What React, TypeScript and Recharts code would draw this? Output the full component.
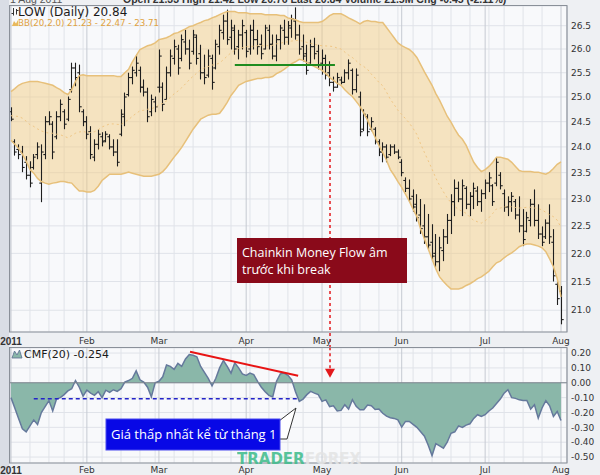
import React from 'react';
import {
  ComposedChart,
  Bar,
  Area,
  Line,
  XAxis,
  YAxis,
  CartesianGrid,
  ReferenceLine,
  ReferenceDot,
} from 'recharts';

// ---------- calendar (categories) ----------
const FIRST_DAY = '2011-01-03';
const LAST_DAY = '2011-08-01';
const HOLIDAYS = ['2011-01-17', '2011-02-21', '2011-04-22', '2011-05-30', '2011-07-04'];
const MONTH_LABELS = ['2011', 'Feb', 'Mar', 'Apr', 'May', 'Jun', 'Jul', 'Aug'];
const PRICE_TICKS = [21, 21.5, 22, 22.5, 23, 23.5, 24, 24.5, 25, 25.5, 26, 26.5];
const CMF_TICKS = [0.2, 0.1, 0, -0.1, -0.2, -0.3, -0.4, -0.5];

// ---------- series ----------
const OPEN = [
  24.70, 24.10, 23.95, 23.90, 23.70, 23.45, 23.60, 23.85, 23.30, 23.85,
  24.50, 24.45, 24.20, 24.60, 24.70, 24.55, 25.15, 25.60, 25.50, 24.70,
  24.50, 24.30, 23.80, 24.05, 24.20, 24.12, 24.20, 24.00, 23.90, 24.25,
  24.60, 25.05, 25.40, 25.50, 25.55, 25.20, 25.10, 24.70, 24.90, 25.20,
  25.20, 24.95, 25.50, 25.80, 26.00, 25.80, 26.15, 26.00, 25.95, 26.25,
  25.90, 25.50, 25.45, 25.80, 25.60, 26.05, 26.35, 26.60, 26.25, 26.40,
  26.05, 26.30, 26.35, 26.00, 26.40, 26.20, 26.10, 26.00, 26.40, 26.10,
  25.85, 26.20, 26.40, 26.25, 26.45, 26.60, 26.30, 26.05, 25.90, 25.70,
  26.05, 25.95, 25.70, 25.80, 25.50, 25.30, 25.20, 25.35, 25.30, 25.50,
  25.55, 25.15, 25.00, 24.35, 24.60, 24.35, 24.35, 24.10, 23.90, 24.00,
  23.85, 24.00, 23.90, 23.70, 23.35, 23.20, 23.05, 22.90, 22.70, 22.50,
  22.30, 22.20, 22.00, 21.85, 22.05, 22.30, 22.60, 22.95, 23.20, 23.00,
  23.20, 22.90, 23.05, 23.15, 22.95, 23.10, 23.30, 23.25, 23.30, 23.45,
  23.10, 22.85, 22.95, 22.95, 22.70, 22.50, 22.40, 22.60, 22.90, 22.60,
  22.35, 22.30, 22.55, 22.20, 21.45, 21.33,
];
const HIGH = [
  24.79, 24.15, 24.05, 24.02, 23.82, 23.72, 23.86, 24.09, 24.05, 24.61,
  24.71, 24.51, 24.71, 24.95, 24.75, 25.01, 25.71, 25.71, 25.67, 24.75,
  24.61, 24.41, 24.15, 24.35, 24.29, 24.31, 24.25, 24.15, 24.15, 24.75,
  25.09, 25.50, 25.63, 25.88, 25.63, 25.36, 25.19, 25.05, 25.01, 25.99,
  25.30, 25.63, 25.99, 26.20, 26.09, 26.31, 26.41, 26.20, 26.41, 26.31,
  26.09, 25.88, 25.99, 25.88, 26.20, 26.52, 26.74, 26.85, 26.63, 26.52,
  26.41, 26.63, 26.41, 26.52, 26.63, 26.41, 26.31, 26.52, 26.52, 26.31,
  26.31, 26.52, 26.63, 26.60, 26.74, 26.90, 26.52, 26.31, 26.09, 26.20,
  26.24, 26.09, 25.99, 25.88, 25.74, 25.42, 25.50, 25.42, 25.57, 25.78,
  25.59, 25.59, 25.11, 24.75, 24.65, 24.59, 24.39, 24.15, 24.09, 24.05,
  24.05, 24.05, 23.95, 23.76, 23.41, 23.37, 23.18, 23.09, 23.00, 22.90,
  22.72, 22.53, 22.35, 22.30, 22.44, 22.72, 23.09, 23.37, 23.33, 23.37,
  23.24, 23.13, 23.31, 23.24, 23.18, 23.37, 23.51, 23.28, 23.80, 23.51,
  23.18, 23.05, 23.13, 23.00, 23.05, 22.81, 22.76, 23.00, 23.18, 22.90,
  22.49, 22.62, 22.90, 22.44, 21.50, 21.42,
];
const LOW = [
  24.51, 23.83, 23.76, 23.51, 23.37, 23.22, 23.56, 23.76, 22.94, 23.76,
  24.43, 23.76, 24.15, 24.51, 24.35, 24.51, 25.09, 25.22, 24.69, 24.41,
  24.15, 23.76, 23.72, 23.95, 24.01, 24.09, 23.95, 23.82, 23.62, 24.21,
  24.41, 25.01, 25.26, 25.42, 25.09, 25.01, 24.49, 24.61, 24.69, 25.09,
  24.71, 24.95, 25.42, 25.67, 25.46, 25.74, 25.88, 25.57, 25.88, 25.67,
  25.36, 25.26, 25.40, 25.15, 25.57, 25.88, 26.20, 26.09, 25.99, 25.88,
  25.78, 25.99, 25.82, 25.88, 25.99, 25.88, 25.78, 25.99, 25.99, 25.78,
  25.74, 25.99, 26.09, 26.09, 26.24, 26.20, 25.88, 25.74, 25.46, 25.67,
  25.78, 25.57, 25.46, 25.36, 25.22, 25.11, 25.19, 25.26, 25.29, 25.36,
  25.05, 25.09, 24.21, 24.31, 24.21, 24.31, 24.05, 23.82, 23.70, 23.70,
  23.82, 23.86, 23.76, 23.43, 23.13, 22.94, 22.76, 22.58, 22.35, 22.17,
  22.08, 21.86, 21.76, 21.68, 21.86, 22.17, 22.35, 22.68, 22.94, 22.68,
  22.81, 22.68, 22.81, 22.87, 22.76, 23.00, 23.13, 22.87, 23.24, 23.18,
  22.76, 22.68, 22.76, 22.62, 22.38, 22.13, 22.38, 22.49, 22.49, 22.26,
  22.13, 22.26, 22.17, 21.50, 21.09, 20.76,
];
const CLOSE = [
  24.55, 23.90, 23.85, 23.60, 23.45, 23.30, 23.80, 24.00, 23.90, 24.50,
  24.60, 23.90, 24.60, 24.85, 24.45, 24.95, 25.60, 25.40, 24.80, 24.50,
  24.25, 23.85, 24.05, 24.25, 24.10, 24.25, 24.00, 23.90, 23.70, 24.65,
  25.00, 25.40, 25.55, 25.70, 25.20, 25.10, 24.60, 24.95, 24.80, 25.85,
  24.85, 25.50, 25.85, 26.05, 25.60, 26.20, 26.00, 25.70, 26.30, 25.80,
  25.50, 25.40, 25.85, 25.30, 26.10, 26.40, 26.60, 26.20, 26.45, 26.00,
  26.30, 26.50, 25.95, 26.40, 26.20, 26.05, 25.90, 26.45, 26.10, 25.85,
  26.20, 26.45, 26.25, 26.50, 26.65, 26.30, 26.00, 25.85, 25.55, 26.05,
  25.90, 25.65, 25.80, 25.45, 25.30, 25.20, 25.40, 25.30, 25.50, 25.70,
  25.15, 25.45, 24.30, 24.65, 24.30, 24.50, 24.10, 23.90, 24.00, 23.80,
  24.00, 23.90, 23.80, 23.50, 23.20, 23.00, 22.85, 22.65, 22.45, 22.30,
  22.15, 21.95, 21.85, 22.10, 22.30, 22.60, 22.95, 23.20, 23.00, 23.25,
  22.90, 23.05, 23.20, 22.95, 23.10, 23.30, 23.40, 22.95, 23.70, 23.25,
  22.85, 22.95, 23.05, 22.70, 22.50, 22.25, 22.65, 22.90, 22.60, 22.35,
  22.20, 22.55, 22.30, 21.60, 21.20, 20.84,
];
const BB_UPPER = [
  25.11, 25.17, 25.24, 25.28, 25.30, 25.32, 25.32, 25.32, 25.30, 25.28,
  25.26, 25.24, 25.19, 25.15, 25.09, 25.05, 25.15, 25.32, 25.44, 25.46,
  25.44, 25.44, 25.44, 25.44, 25.44, 25.44, 25.44, 25.44, 25.42, 25.42,
  25.50, 25.57, 25.73, 25.86, 25.99, 26.03, 26.07, 26.09, 26.13, 26.20,
  26.22, 26.24, 26.28, 26.33, 26.35, 26.39, 26.43, 26.48, 26.50, 26.54,
  26.57, 26.61, 26.63, 26.67, 26.70, 26.74, 26.78, 26.81, 26.81, 26.81,
  26.78, 26.78, 26.78, 26.76, 26.76, 26.76, 26.76, 26.74, 26.74, 26.74,
  26.74, 26.72, 26.72, 26.67, 26.65, 26.63, 26.59, 26.57, 26.57, 26.57,
  26.57, 26.57, 26.59, 26.65, 26.72, 26.76, 26.76, 26.76, 26.72, 26.67,
  26.63, 26.59, 26.54, 26.59, 26.61, 26.59, 26.59, 26.57, 26.57, 26.46,
  26.35, 26.24, 26.13, 26.07, 26.03, 25.99, 25.92, 25.82, 25.67, 25.52,
  25.38, 25.24, 25.07, 24.93, 24.77, 24.61, 24.49, 24.35, 24.23, 24.15,
  24.03, 23.86, 23.70, 23.60, 23.52, 23.56, 23.62, 23.70, 23.80, 23.80,
  23.78, 23.76, 23.70, 23.62, 23.54, 23.52, 23.52, 23.52, 23.51, 23.51,
  23.49, 23.47, 23.51, 23.58, 23.66, 23.71,
];
const BB_LOWER = [
  24.13, 24.05, 23.97, 23.86, 23.72, 23.56, 23.49, 23.39, 23.33, 23.30,
  23.28, 23.30, 23.31, 23.33, 23.33, 23.31, 23.30, 23.22, 23.15, 23.15,
  23.13, 23.13, 23.16, 23.24, 23.35, 23.41, 23.47, 23.47, 23.47, 23.47,
  23.49, 23.51, 23.49, 23.47, 23.45, 23.43, 23.43, 23.43, 23.45, 23.47,
  23.52, 23.60, 23.70, 23.80, 23.89, 23.99, 24.11, 24.23, 24.35, 24.45,
  24.55, 24.59, 24.63, 24.65, 24.65, 24.67, 24.77, 24.89, 25.03, 25.13,
  25.24, 25.28, 25.32, 25.34, 25.36, 25.38, 25.38, 25.40, 25.40, 25.42,
  25.48, 25.52, 25.57, 25.63, 25.69, 25.73, 25.78, 25.76, 25.71, 25.67,
  25.63, 25.59, 25.55, 25.48, 25.40, 25.34, 25.28, 25.24, 25.15, 25.07,
  25.01, 24.91, 24.81, 24.67, 24.53, 24.35, 24.19, 24.03, 23.89, 23.74,
  23.56, 23.45, 23.33, 23.22, 23.09, 22.96, 22.81, 22.67, 22.44, 22.26,
  22.08, 21.90, 21.72, 21.58, 21.50, 21.43, 21.37, 21.37, 21.37, 21.39,
  21.43, 21.46, 21.50, 21.55, 21.58, 21.63, 21.68, 21.76, 21.83, 21.86,
  21.92, 21.97, 22.01, 22.06, 22.12, 22.15, 22.17, 22.17, 22.15, 22.13,
  22.10, 22.03, 21.90, 21.76, 21.55, 21.23,
];
const CMF = [
  -0.10, -0.17, -0.24, -0.31, -0.33, -0.29, -0.25, -0.28, -0.20, -0.16,
  -0.12, -0.19, -0.11, -0.10, -0.08, -0.055, -0.04, 0.015, -0.03, -0.09,
  -0.05, -0.07, -0.085, -0.06, -0.10, -0.05, -0.065, -0.047, -0.058, -0.04,
  0.005, 0.015, 0.03, 0.08, 0.02, 0.005, -0.03, -0.095, 0.0, 0.01,
  0.04, 0.12, 0.11, 0.09, 0.13, 0.11, 0.16, 0.19, 0.185, 0.175,
  0.11, 0.07, 0.03, -0.02, 0.03, 0.10, 0.15, 0.11, 0.065, 0.135,
  0.10, 0.06, 0.05, 0.065, 0.055, 0.01, -0.03, -0.06, -0.085, -0.096,
  0.01, 0.06, 0.065, 0.05, 0.02, -0.06, -0.125, -0.11, -0.08, -0.058,
  -0.07, -0.08, -0.125, -0.115, -0.16, -0.155, -0.19, -0.186, -0.148, -0.177,
  -0.114, -0.159, -0.182, -0.182, -0.15, -0.155, -0.18, -0.177, -0.205, -0.225,
  -0.235, -0.24, -0.25, -0.298, -0.26, -0.26, -0.28, -0.30, -0.33, -0.36,
  -0.42, -0.49, -0.41, -0.425, -0.44, -0.40, -0.34, -0.33, -0.29, -0.30,
  -0.285, -0.276, -0.24, -0.215, -0.227, -0.215, -0.19, -0.17, -0.14, -0.11,
  -0.07, -0.047, -0.10, -0.105, -0.115, -0.119, -0.119, -0.177, -0.148, -0.238,
  -0.17, -0.12, -0.155, -0.227, -0.193, -0.254,
];

// ---------- derived tables ----------
type Day = { iso: string; dow: number; month: number };
function buildTradingDays(): Day[] {
  const out: Day[] = [];
  const d = new Date(FIRST_DAY + 'T00:00:00Z');
  const end = new Date(LAST_DAY + 'T00:00:00Z');
  while (d.getTime() <= end.getTime()) {
    const dow = d.getUTCDay();
    const iso = d.toISOString().slice(0, 10);
    if (dow !== 0 && dow !== 6 && !HOLIDAYS.includes(iso)) {
      out.push({ iso, dow, month: d.getUTCMonth() });
    }
    d.setUTCDate(d.getUTCDate() + 1);
  }
  return out;
}
const DAYS = buildTradingDays();
const N = Math.min(DAYS.length, OPEN.length, HIGH.length, LOW.length, CLOSE.length, BB_UPPER.length, BB_LOWER.length, CMF.length);
const MONTH_STARTS = DAYS.map((d, i) => (i === 0 || d.month !== DAYS[i - 1].month ? i : -1)).filter((i) => i >= 0);
const WEEK_STARTS = DAYS.map((d, i) => (i === 0 || d.dow <= DAYS[i - 1].dow ? i : -1)).filter(
  (i) => i >= 0 && !MONTH_STARTS.includes(i)
);

const priceData = DAYS.slice(0, N).map((d, i) => ({
  i,
  date: d.iso,
  o: OPEN[i],
  h: HIGH[i],
  l: LOW[i],
  c: CLOSE[i],
  hl: [LOW[i], HIGH[i]],
  band: [BB_LOWER[i], BB_UPPER[i]],
  bbU: BB_UPPER[i],
  bbL: BB_LOWER[i],
  bbM: (BB_UPPER[i] + BB_LOWER[i]) / 2,
}));
const cmfData = DAYS.slice(0, N).map((d, i) => ({ i, date: d.iso, cmf: CMF[i] }));

const X_DOMAIN: [number, number] = [-0.264, 146.58];
const FONT = 'DejaVu Sans';

const MonthTick = (props: any) => {
  const { x, y, payload } = props;
  const idx = MONTH_STARTS.indexOf(payload.value);
  const label = idx >= 0 ? MONTH_LABELS[idx] : '';
  const first = idx === 0;
  return (
    <text
      x={x}
      y={y}
      dy="0.71em"
      textAnchor="middle"
      fontFamily={first ? 'Liberation Sans' : FONT}
      fontWeight={first ? 700 : 400}
      fontSize={first ? 10 : 9}
      fill="#333"
    >
      {label}
    </text>
  );
};

const OhlcBar = (props: any) => {
  const { x, y, width, height, payload } = props;
  if (!payload || !isFinite(y) || !isFinite(height)) return null;
  const top = Math.min(y, y + height);
  const bot = Math.max(y, y + height);
  const lh = Math.log(payload.h);
  const ll = Math.log(payload.l);
  const span = lh - ll || 1;
  const at = (v: number) => top + ((bot - top) * (lh - Math.log(v))) / span;
  const cx = Math.round(x + width / 2) + 0.5;
  const yo = at(payload.o);
  const yc = at(payload.c);
  return (
    <g stroke="#1e1e1e" strokeWidth={1.1}>
      <line x1={cx} x2={cx} y1={top} y2={bot} />
      <line x1={cx - 2.2} x2={cx} y1={yo} y2={yo} />
      <line x1={cx} x2={cx + 2.2} y1={yc} y2={yc} />
    </g>
  );
};

const ArrowHead = (props: any) => {
  const { cx, cy } = props;
  if (!isFinite(cx) || !isFinite(cy)) return null;
  return <path d={`M${cx - 5},${cy} L${cx + 5},${cy} L${cx},${cy + 9} Z`} fill="#e3191c" />;
};

const yTick = { fontSize: 9, fill: '#333', fontFamily: FONT };

const weekAxis = (
  <XAxis
    xAxisId="weeks"
    dataKey="i"
    type="number"
    domain={X_DOMAIN}
    allowDataOverflow
    ticks={WEEK_STARTS}
    interval={0}
    hide
  />
);

export default function App() {
  return (
    <div
      style={{
        position: 'absolute',
        left: 0,
        top: 0,
        width: 600,
        height: 475,
        overflow: 'hidden',
        background: '#eef0f3',
        fontFamily: FONT,
      }}
    >
      <div style={{ position: 'absolute', left: 0, top: 0, width: 9, height: 475, background: '#d9dde5' }} />

      <div style={{ position: 'absolute', left: 0, top: 0 }}>
        <ComposedChart width={600} height={348} data={priceData} margin={{ top: 6, right: 0, bottom: 0, left: 10 }}>
          <CartesianGrid fill="#f8f9fb" stroke="#e0e3e9" vertical={false} />
          <CartesianGrid stroke="#e0e3e9" horizontal={false} fill="none" xAxisId="weeks" />
          <CartesianGrid stroke="#c6cad2" horizontal={false} fill="none" />
          <XAxis
            dataKey="i"
            type="number"
            domain={X_DOMAIN}
            allowDataOverflow
            ticks={MONTH_STARTS}
            interval={0}
            tick={(p: any) => <MonthTick {...p} />}
            height={16}
            tickSize={0}
            tickMargin={6}
            axisLine={false}
            tickLine={false}
          />
          {weekAxis}
          <YAxis
            orientation="right"
            type="number"
            scale="log"
            domain={[20.63, 26.93]}
            allowDataOverflow
            ticks={PRICE_TICKS}
            interval={0}
            width={33}
            tickSize={0}
            tickMargin={4}
            axisLine={false}
            tickLine={false}
            tick={yTick}
            tickFormatter={(v: number) => v.toFixed(1)}
          />
          <Area
            dataKey="band"
            type="linear"
            fill="#f2cb80"
            fillOpacity={0.48}
            stroke="none"
            dot={false}
            activeDot={false}
            isAnimationActive={false}
          />
          <Line dataKey="bbU" type="linear" stroke="#e7c07a" strokeWidth={1.5} dot={false} activeDot={false} isAnimationActive={false} />
          <Line dataKey="bbL" type="linear" stroke="#e7c07a" strokeWidth={1.5} dot={false} activeDot={false} isAnimationActive={false} />
          <Line
            dataKey="bbM"
            type="linear"
            stroke="#f0c684"
            strokeWidth={1}
            strokeDasharray="2 3"
            dot={false}
            activeDot={false}
            isAnimationActive={false}
          />
          <Bar dataKey="hl" barSize={3} shape={(p: any) => <OhlcBar {...p} />} isAnimationActive={false} />
          <ReferenceLine
            segment={[
              { x: 59, y: 25.66 },
              { x: 85.4, y: 25.66 },
            ]}
            stroke="#1f8c1f"
            strokeWidth={2}
          />
          <ReferenceLine
            segment={[
              { x: 84.1, y: 25.08 },
              { x: 84.1, y: 20.37 },
            ]}
            ifOverflow="visible"
            stroke="#e3191c"
            strokeWidth={1.5}
            strokeDasharray="3 3"
          />
        </ComposedChart>
      </div>

      <div style={{ position: 'absolute', left: 0, top: 348 }}>
        <ComposedChart width={600} height={127} data={cmfData} margin={{ top: 0, right: 0, bottom: 0, left: 10 }}>
          <CartesianGrid fill="#f8f9fb" stroke="#e0e3e9" vertical={false} />
          <CartesianGrid stroke="#e0e3e9" horizontal={false} fill="none" xAxisId="weeks" />
          <CartesianGrid stroke="#c6cad2" horizontal={false} fill="none" />
          <XAxis
            dataKey="i"
            type="number"
            domain={X_DOMAIN}
            allowDataOverflow
            ticks={MONTH_STARTS}
            interval={0}
            tick={(p: any) => <MonthTick {...p} />}
            height={12}
            tickSize={0}
            tickMargin={4}
            axisLine={false}
            tickLine={false}
          />
          {weekAxis}
          <YAxis
            orientation="right"
            type="number"
            domain={[-0.54, 0.234]}
            allowDataOverflow
            ticks={CMF_TICKS}
            interval={0}
            width={33}
            tickSize={0}
            tickMargin={4}
            axisLine={false}
            tickLine={false}
            tick={yTick}
            tickFormatter={(v: number) => v.toFixed(2)}
          />
          <Area
            dataKey="cmf"
            type="linear"
            baseValue={0}
            fill="#8ab7a9"
            fillOpacity={1}
            stroke="#65799c"
            strokeWidth={1.5}
            dot={false}
            activeDot={false}
            isAnimationActive={false}
          />
          <ReferenceLine y={0} stroke="#7d838d" strokeWidth={1} />
          <ReferenceLine
            segment={[
              { x: 47.2, y: 0.209 },
              { x: 75.7, y: 0.047 },
            ]}
            stroke="#e81414"
            strokeWidth={2}
          />
          <ReferenceLine
            segment={[
              { x: 6, y: -0.108 },
              { x: 76, y: -0.108 },
            ]}
            stroke="#2323c8"
            strokeWidth={1.5}
            strokeDasharray="4 3"
          />
          <ReferenceLine
            segment={[
              { x: 84.1, y: 0.32 },
              { x: 84.1, y: 0.094 },
            ]}
            ifOverflow="visible"
            stroke="#e3191c"
            strokeWidth={1.5}
            strokeDasharray="3 3"
          />
          <ReferenceDot x={84.1} y={0.094} r={5} shape={(p: any) => <ArrowHead {...p} />} />
        </ComposedChart>
      </div>

      <svg
        width={600}
        height={475}
        style={{ position: 'absolute', left: 0, top: 0, pointerEvents: 'none' }}
      >
        <text x={10} y={3} fontFamily="Liberation Sans" fontSize={10.5} fill="#555">
          1 Aug 2011
        </text>
        <text x={123} y={3} fontFamily="Liberation Sans" fontWeight={700} fontSize={10.5} fill="#333">
          Open 21.33  High 21.42  Low 20.76  Last 20.84  Volume 21.5M  Chg -0.45 (-2.11%)
        </text>

        <rect x={9.5} y={5.5} width={557.5} height={326.5} fill="none" stroke="#8a9099" />
        <rect x={9.5} y={347.5} width={557.5} height={115.5} fill="none" stroke="#8a9099" />

        <path d="M13.5,8 V15.5 M11.5,13.5 H13.5 M16.5,9 V14.5 M16.5,10.5 H18.5" stroke="#333" strokeWidth={1} fill="none" />
        <text x={18} y={16} fontFamily={FONT} fontSize={12} fill="#1a1a1a">
          LOW (Daily) 20.84
        </text>
        <path d="M12,26 L14,21 L16,23.5 L18,20 L18,26 Z" fill="#e8b85c" />
        <text x={18} y={26} fontFamily={FONT} fontSize={8.7} fill="#e0a23e">
          BB(20,2.0) 21.23 - 22.47 - 23.71
        </text>
        <path d="M12,358 L14.5,351 L17,355 L19.5,350 L22,358 Z" fill="#8ab7a9" stroke="#5a6d90" strokeWidth={0.8} />
        <text x={24} y={358} fontFamily={FONT} fontSize={11} fill="#1a1a1a">
          CMF(20) -0.254
        </text>

        <rect x={237} y={238} width={170} height={45} fill="#8a0a1a" />
        <text x={242} y={257} fontFamily="Open Sans" fontSize={12.5} fill="#ffffff">
          Chainkin Money Flow âm
        </text>
        <text x={242} y={274} fontFamily="Open Sans" fontSize={12.5} fill="#ffffff">
          trước khi break
        </text>

        <path d="M279,421 L296,408 L287,439 L279,439 Z" fill="#ffffff" stroke="#333" strokeWidth={1} />
        <rect x={106} y={419} width={174} height={31} fill="#0808e6" stroke="#4b4bf0" strokeWidth={1} />
        <text x={111} y={439} fontFamily="Open Sans" fontSize={13} fill="#ffffff">
          Giá thấp nhất kể từ tháng 1
        </text>

        <text x={237} y={464} fontFamily={FONT} fontWeight={700} fontSize={15} opacity={0.85}>
          <tspan fill="#3dbb8a">TRADER</tspan>
          <tspan fill="#e4e4e4">FOREX</tspan>
        </text>
      </svg>
    </div>
  );
}
